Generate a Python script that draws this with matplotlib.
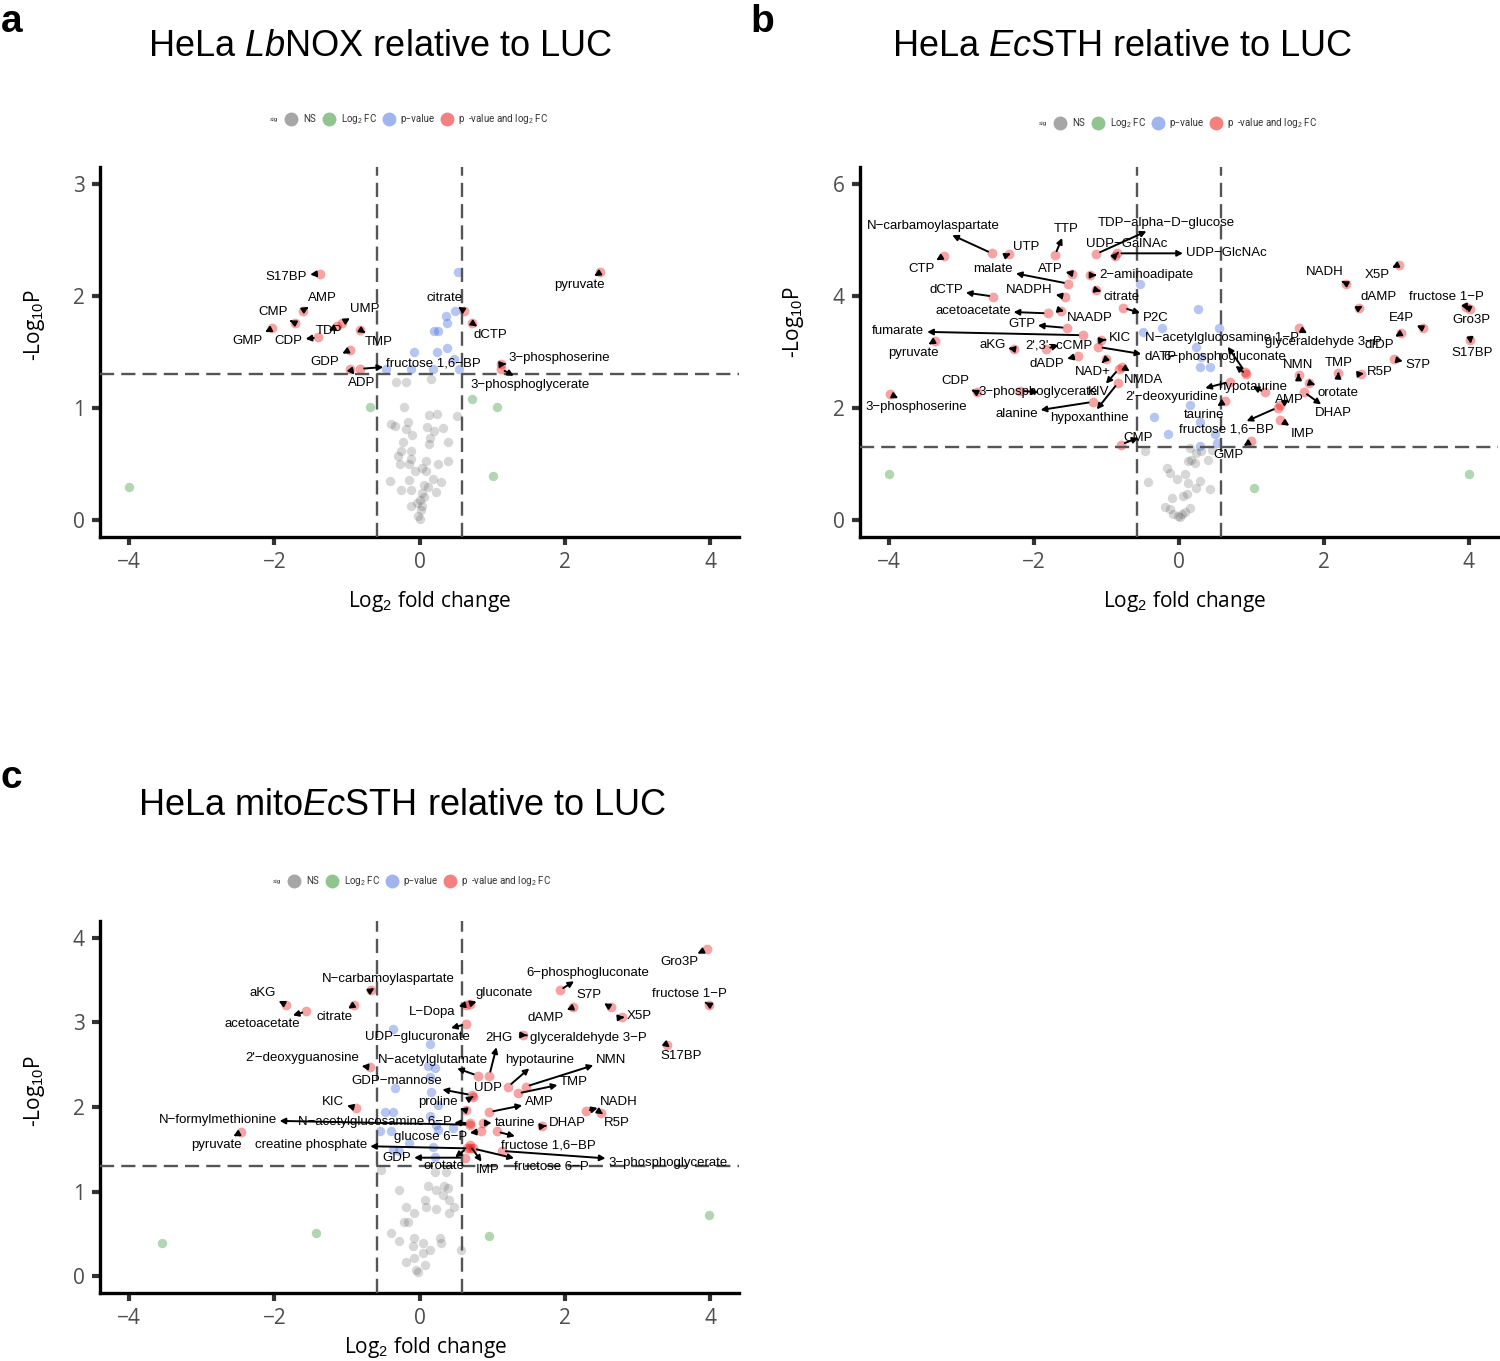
import matplotlib
matplotlib.use('Agg')
import matplotlib.pyplot as plt

plt.rcParams['font.family'] = ['Open Sans', 'DejaVu Sans']
plt.rcParams['mathtext.fontset'] = 'custom'
plt.rcParams['mathtext.rm'] = 'Liberation Sans'
plt.rcParams['mathtext.it'] = 'Liberation Sans:italic'
plt.rcParams['mathtext.bf'] = 'Liberation Sans:bold'

M = '\u2212'

# ---------------- panel a : HeLa LbNOX ----------------
a_names = ['S17BP', 'AMP', 'CMP', 'GMP', 'CDP', 'UMP', 'TDP', 'TMP', 'GDP', 'ADP',
           'fructose 1,6' + M + 'BP', 'citrate', 'dCTP', '3' + M + 'phosphoserine',
           '3' + M + 'phosphoglycerate', 'pyruvate']
a_fc = [-1.37, -1.61, -1.72, -2.03, -1.40, -1.07, -1.13, -0.82, -0.96, -0.96,
        -0.82, 0.61, 0.72, 1.12, 1.12, 2.49]
a_p = [2.20, 1.87, 1.76, 1.71, 1.63, 1.76, 1.73, 1.70, 1.52, 1.35,
       1.35, 1.87, 1.76, 1.39, 1.35, 2.21]
a_text_pos = [(-1.83, 2.17), (-1.34, 1.98), (-2.02, 1.86), (-2.37, 1.60), (-1.80, 1.60),
              (-0.75, 1.88), (-1.25, 1.69), (-0.56, 1.59), (-1.30, 1.41), (-0.80, 1.22),
              (0.19, 1.40), (0.34, 1.98), (0.97, 1.65), (1.93, 1.45), (1.52, 1.21),
              (2.20, 2.10)]
a_blue_fc = [0.53, 0.49, 0.36, 0.38, 0.20, 0.26, 0.38, 0.24, -0.08, 0.48, -0.46, -0.12, 0.19, 0.54]
a_blue_p = [2.21, 1.87, 1.82, 1.76, 1.69, 1.69, 1.54, 1.50, 1.50, 1.44, 1.35, 1.35, 1.35, 1.35]
a_green_fc = [0.72, 1.06, -0.68, 1.01, -4.0]
a_green_p = [1.08, 1.01, 1.01, 0.39, 0.30]
a_grey_fc = [-0.32, -0.19, 0.16, -0.21, 0.13, 0.24, 0.52, -0.39, -0.34, -0.16, 0.10, 0.32, 0.20,
             -0.19, -0.10, 0.14, -0.23, 0.39, 0.13, -0.25, -0.12, -0.29, -0.12, 0.09, 0.39, -0.27,
             -0.14, 0.25, 0.03, 0.09, -0.06, 0.19, -0.41, -0.14, 0.29, 0.06, 0.12, -0.26, -0.12,
             0.22, 0.03, 0.06, 0.00, -0.03, -0.12, 0.04, 0.02, -0.02, 0.00]
a_grey_p = [1.23, 1.23, 1.26, 1.01, 0.94, 0.95, 0.93, 0.86, 0.84, 0.88, 0.83, 0.82, 0.80,
            0.81, 0.76, 0.73, 0.70, 0.70, 0.68, 0.62, 0.62, 0.57, 0.55, 0.53, 0.53, 0.50,
            0.50, 0.50, 0.47, 0.44, 0.44, 0.37, 0.35, 0.36, 0.34, 0.31, 0.30, 0.27, 0.27,
            0.25, 0.24, 0.21, 0.18, 0.15, 0.13, 0.13, 0.09, 0.04, 0.01]

# ---------------- panel b : HeLa EcSTH ----------------
b_names = ['N' + M + 'carbamoylaspartate', 'CTP', 'UTP', 'TTP', 'TDP' + M + 'alpha' + M + 'D' + M + 'glucose',
           'UDP' + M + 'GalNAc', 'UDP' + M + 'GlcNAc', 'malate', 'ATP', '2' + M + 'aminoadipate',
           'dCTP', 'NADPH', 'citrate', 'acetoacetate', 'NAADP', 'P2C', 'GTP', 'fumarate',
           'pyruvate', 'aKG', "2',3'" + M + 'cCMP', 'KIC', 'dATP', 'dADP', 'NAD+', 'NMDA', 'KIV',
           'CDP', '3' + M + 'phosphoglycerate', '3' + M + 'phosphoserine', 'alanine', 'hypoxanthine',
           'CMP', 'N' + M + 'acetylglucosamine 1' + M + 'P', '6' + M + 'phosphogluconate',
           "2'" + M + 'deoxyuridine', 'hypotaurine', 'taurine', 'fructose 1,6' + M + 'BP', 'AMP',
           'IMP', 'GMP', 'glyceraldehyde 3' + M + 'P', 'NMN', 'TMP', 'orotate', 'DHAP', 'NADH',
           'X5P', 'dAMP', 'fructose 1' + M + 'P', 'Gro3P', 'E4P', 'dIDP', 'S17BP', 'S7P', 'R5P']
b_fc = [-2.58, -3.24, -2.35, -1.71, -1.14, -0.88, -0.85, -1.53, -1.47, -1.22,
        -2.56, -1.57, -1.15, -1.81, -1.62, -0.77, -1.55, -1.33, -3.37, -2.27,
        -1.83, -1.07, -1.11, -1.39, -1.01, -0.78, -0.83, -2.79, -2.19, -3.99,
        -1.19, -0.84, -0.80, 0.91, 0.93, 0.70, 1.19, 0.63, 1.36, 1.40,
        1.40, 1.00, 1.65, 1.65, 2.20, 1.80, 1.72, 2.31, 3.03, 2.49,
        4.02, 3.96, 3.37, 3.07, 4.02, 2.97, 2.51]
b_p = [4.76, 4.72, 4.74, 4.73, 4.75, 4.72, 4.76, 4.22, 4.40, 4.37,
       3.99, 3.99, 4.11, 3.69, 3.74, 3.79, 3.43, 3.30, 3.20, 3.05,
       3.06, 3.21, 3.09, 2.93, 2.87, 2.74, 2.70, 2.28, 2.31, 2.25,
       2.11, 2.45, 1.35, 2.65, 2.60, 2.47, 2.28, 2.12, 2.01, 2.06,
       1.79, 1.41, 3.42, 2.59, 2.62, 2.45, 2.29, 4.22, 4.56, 3.79,
       3.77, 3.80, 3.42, 3.34, 3.21, 2.87, 2.61]
b_text_pos = [(-3.39, 5.24), (-3.55, 4.48), (-2.10, 4.87), (-1.56, 5.19), (-0.18, 5.31),
              (-0.72, 4.93), (0.65, 4.76), (-2.56, 4.48), (-1.77, 4.48), (-0.45, 4.37),
              (-3.21, 4.11), (-2.06, 4.11), (-0.79, 3.99), (-2.84, 3.74), (-1.23, 3.61),
              (-0.32, 3.61), (-2.17, 3.50), (-3.87, 3.37), (-3.66, 2.98), (-2.57, 3.12),
              (-1.66, 3.12), (-0.82, 3.25), (-0.26, 2.91), (-1.82, 2.79), (-1.19, 2.65),
              (-0.49, 2.50), (-1.11, 2.28), (-3.09, 2.48), (-1.94, 2.28), (-3.62, 2.02),
              (-2.24, 1.90), (-1.23, 1.82), (-0.56, 1.47), (0.59, 3.25), (0.63, 2.91),
              (-0.10, 2.20), (1.02, 2.38), (0.34, 1.88), (0.66, 1.61), (1.52, 2.15),
              (1.71, 1.53), (0.69, 1.17), (1.99, 3.18), (1.65, 2.77), (2.21, 2.80),
              (2.20, 2.27), (2.13, 1.91), (2.01, 4.42), (2.73, 4.37), (2.75, 3.98),
              (3.69, 3.98), (4.04, 3.58), (3.07, 3.60), (2.77, 3.12), (4.04, 2.99),
              (3.30, 2.77), (2.77, 2.65)]
b_blue_fc = [-0.54, 0.27, -0.49, -0.24, 0.55, 0.24, 0.31, 0.29, 0.43, 0.15, -0.35, 0.29, -0.15, 0.50, 0.52, 0.29]
b_blue_p = [4.22, 3.77, 3.36, 3.42, 3.43, 3.09, 2.92, 2.74, 2.74, 2.06, 1.85, 1.76, 1.53, 1.53, 1.38, 1.32]
b_green_fc = [-4.0, 1.03, 4.0]
b_green_p = [0.83, 0.57, 0.82]
b_grey_fc = [-0.47, 0.15, 0.24, 0.13, 0.16, 0.22, 0.40, 0.31, -0.17, -0.12, 0.08, -0.03, 0.29, 0.13,
             -0.42, 0.24, 0.43, 0.11, 0.06, -0.10, -0.19, -0.12, 0.15, -0.08, -0.01, 0.04, 0.01, 0.08, 0.45]
b_grey_p = [1.23, 1.29, 1.20, 1.05, 1.08, 1.02, 1.08, 1.23, 0.93, 0.85, 0.82, 0.74, 0.70, 0.67,
            0.68, 0.58, 0.56, 0.46, 0.43, 0.39, 0.23, 0.20, 0.21, 0.11, 0.08, 0.11, 0.05, 0.14, 1.26]

# ---------------- panel c : HeLa mitoEcSTH ----------------
c_names = ['N' + M + 'carbamoylaspartate', 'aKG', 'acetoacetate', 'citrate', "2'" + M + 'deoxyguanosine',
           'KIC', 'N' + M + 'formylmethionine', 'pyruvate', 'creatine phosphate', 'GDP',
           'GDP' + M + 'mannose', 'L' + M + 'Dopa', 'gluconate', 'UDP' + M + 'glucuronate',
           'N' + M + 'acetylglutamate', '2HG', 'UDP', 'proline', 'hypotaurine', 'NMN', 'TMP', 'AMP',
           'taurine', 'N' + M + 'acetylglucosamine 6' + M + 'P', 'glucose 6' + M + 'P', 'NADH', 'R5P',
           'DHAP', 'fructose 1,6' + M + 'BP', '3' + M + 'phosphoglycerate', 'fructose 6' + M + 'P',
           'IMP', 'orotate', 'Gro3P', '6' + M + 'phosphogluconate', 'S7P', 'fructose 1' + M + 'P',
           'dAMP', 'X5P', 'glyceraldehyde 3' + M + 'P', 'S17BP']
c_fc = [-0.67, -1.84, -1.56, -0.90, -0.68, -0.88, 0.69, -2.46, 0.69, 0.62,
        0.72, 0.64, 0.69, 0.64, 0.80, 0.96, 0.73, 0.64, 1.22, 1.46,
        1.35, 0.96, 0.87, 0.69, 0.85, 2.29, 2.50, 1.68, 1.06, 1.13,
        0.73, 0.69, 0.66, 3.96, 1.93, 2.63, 3.99, 2.12, 2.79, 1.42, 3.41]
c_p = [3.38, 3.21, 3.13, 3.21, 2.47, 1.99, 1.79, 1.70, 1.51, 1.40,
       2.14, 3.21, 3.22, 2.98, 2.37, 2.37, 2.12, 1.96, 2.24, 2.24,
       2.16, 1.94, 1.81, 1.81, 1.71, 1.95, 1.93, 1.77, 1.71, 1.48,
       1.51, 1.55, 1.52, 3.87, 3.38, 3.18, 3.21, 3.18, 3.06, 2.85, 2.73]
c_text_pos = [(-0.43, 3.51), (-2.16, 3.35), (-2.16, 2.98), (-1.17, 3.06), (-1.62, 2.58),
              (-1.19, 2.06), (-2.78, 1.85), (-2.80, 1.55), (-1.49, 1.55), (-0.31, 1.40),
              (-0.32, 2.31), (0.18, 3.12), (1.16, 3.35), (-0.03, 2.83), (0.18, 2.56),
              (1.09, 2.81), (0.94, 2.23), (0.25, 2.06), (1.65, 2.56), (2.64, 2.56),
              (2.13, 2.30), (1.65, 2.06), (1.31, 1.81), (-0.62, 1.82), (0.15, 1.64),
              (2.75, 2.06), (2.71, 1.81), (2.04, 1.81), (1.78, 1.55), (3.42, 1.34),
              (1.81, 1.29), (0.94, 1.25), (0.34, 1.30), (3.58, 3.71), (2.32, 3.59),
              (2.34, 3.33), (3.71, 3.34), (1.74, 3.05), (3.03, 3.08), (2.32, 2.81),
              (3.60, 2.60)]
c_blue_fc = [-0.36, 0.14, 0.11, 0.21, -0.34, 0.14, 0.16, -0.47, -0.37, 0.25, 0.14, -0.55, -0.39,
             0.23, 0.46, 0.25, -0.14, 0.18, -0.37, -0.28, 0.21]
c_blue_p = [2.92, 2.75, 2.48, 2.46, 2.22, 2.36, 2.18, 1.94, 1.94, 2.02, 1.89, 1.71, 1.71,
            1.79, 1.75, 1.73, 1.57, 1.53, 1.49, 1.48, 1.41]
c_green_fc = [-3.55, -1.43, 0.96, 3.99]
c_green_p = [0.39, 0.51, 0.47, 0.72]
c_grey_fc = [-0.53, -0.28, 0.11, 0.23, 0.34, 0.39, 0.32, 0.41, 0.48, 0.07, 0.09, 0.22, 0.41, -0.18,
             -0.07, -0.21, -0.16, -0.39, -0.28, -0.07, -0.09, 0.05, 0.28, 0.30, 0.14, 0.05, -0.07,
             0.07, -0.18, -0.05, -0.02, 0.57, 0.21, 0.37]
c_grey_p = [1.25, 1.02, 1.06, 1.02, 1.06, 1.04, 0.96, 0.90, 0.82, 0.90, 0.82, 0.79, 0.75, 0.82,
            0.74, 0.64, 0.64, 0.51, 0.41, 0.45, 0.35, 0.39, 0.45, 0.39, 0.31, 0.27, 0.21,
            0.13, 0.17, 0.07, 0.05, 0.31, 1.23, 1.23]

FC_CUT = 0.585
P_CUT = 1.301


def draw_panel(ax, names, fc, p, text_pos, blue, green, grey, ymax, ystep):
    ax.scatter(grey[0], grey[1], s=46, color='#4d4d4d', alpha=0.22, lw=0, zorder=2)
    ax.scatter(green[0], green[1], s=46, color='#228b22', alpha=0.35, lw=0, zorder=2)
    ax.scatter(blue[0], blue[1], s=46, color='#4169e1', alpha=0.38, lw=0, zorder=2)
    ax.scatter(fc, p, s=50, color='#ee0000', alpha=0.36, lw=0, zorder=2)

    for xv in (-FC_CUT, FC_CUT):
        ax.axvline(xv, color='#555555', lw=1.7, ls=(0, (6, 3)), zorder=3)
    ax.axhline(P_CUT, color='#555555', lw=1.7, ls=(0, (6, 3)), zorder=3)

    for name, x, y, pos in zip(names, fc, p, text_pos):
        ax.annotate(name, xy=(x, y), xytext=pos, ha='center', va='center',
                    fontsize=9.5, family='Liberation Sans', zorder=5,
                    arrowprops=dict(arrowstyle='<|-,head_length=0.35,head_width=0.18',
                                    color='black', lw=1.4, shrinkA=0, shrinkB=3))

    ax.set_xlim(-4.4, 4.4)
    ax.set_ylim(-0.05 * ymax, 1.05 * ymax)
    ax.set_xticks([-4, -2, 0, 2, 4])
    ax.set_yticks([ystep * i for i in range(int(ymax / ystep) + 1)])
    for s in ('top', 'right'):
        ax.spines[s].set_visible(False)
    for s in ('left', 'bottom'):
        ax.spines[s].set_linewidth(2.4)
        ax.spines[s].set_color('black')
    ax.tick_params(length=6, width=3, color='#333333', labelsize=15,
                   labelcolor='#4d4d4d', pad=5)
    ax.set_xlabel('Log$_2$ fold change', fontsize=15)
    ax.set_ylabel('-Log$_{10}$P', fontsize=15)


fig = plt.figure(figsize=(15, 13.61), dpi=100)

ax_a = fig.add_axes([0.0667, 0.6054, 0.426, 0.2719])
draw_panel(ax_a, a_names, a_fc, a_p, a_text_pos, (a_blue_fc, a_blue_p),
           (a_green_fc, a_green_p), (a_grey_fc, a_grey_p), 3, 1)
ax_a.xaxis.set_label_coords(0.516, -0.1405)
ax_a.yaxis.set_label_coords(-0.083, 0.573)

ax_b = fig.add_axes([0.5733, 0.6054, 0.4253, 0.2719])
draw_panel(ax_b, b_names, b_fc, b_p, b_text_pos, (b_blue_fc, b_blue_p),
           (b_green_fc, b_green_p), (b_grey_fc, b_grey_p), 6, 2)
ax_b.xaxis.set_label_coords(0.5086, -0.1405)
ax_b.yaxis.set_label_coords(-0.0846, 0.581)

ax_c = fig.add_axes([0.0667, 0.05, 0.426, 0.2733])
draw_panel(ax_c, c_names, c_fc, c_p, c_text_pos, (c_blue_fc, c_blue_p),
           (c_green_fc, c_green_p), (c_grey_fc, c_grey_p), 4, 1)
ax_c.xaxis.set_label_coords(0.509, -0.113)
ax_c.yaxis.set_label_coords(-0.083, 0.543)

# overlay in pixel coordinates for titles, panel letters and legends
ov = fig.add_axes([0, 0, 1, 1], zorder=10)
ov.set_xlim(0, 1500)
ov.set_ylim(1361, 0)
ov.axis('off')

ov.text(1, 32, 'a', fontsize=28, fontweight='bold', family='Liberation Sans')
ov.text(750, 32, 'b', fontsize=28, fontweight='bold', family='Liberation Sans')
ov.text(1, 788, 'c', fontsize=28, fontweight='bold', family='Liberation Sans')

ov.text(380, 56, 'HeLa $\\it{Lb}$NOX relative to LUC', ha='center', fontsize=26,
        family='Liberation Sans')
ov.text(1122, 56, 'HeLa $\\it{Ec}$STH relative to LUC', ha='center', fontsize=26,
        family='Liberation Sans')
ov.text(402, 815, 'HeLa mito$\\it{Ec}$STH relative to LUC', ha='center', fontsize=26,
        family='Liberation Sans')

leg_colors = ['#a6a6a6', '#90c590', '#a0b4f0', '#f68080']


def draw_legend(x0, y):
    ov.text(x0 + 6, y, 'sig', fontsize=4.5, ha='center', va='center', family='Roboto', color='#333333')
    for dx, col in zip((23, 61, 121, 179), leg_colors):
        ov.plot([x0 + dx], [y], 'o', ms=10, color=col, mew=0)
    kw = dict(fontsize=7, va='center', family='Roboto', color='#333333')
    ov.text(x0 + 35, y, 'NS', **kw)
    ov.text(x0 + 73, y, 'Log$_2$ FC', **kw)
    ov.text(x0 + 132, y, 'p' + M + 'value', **kw)
    ov.text(x0 + 190, y, 'p', **kw)
    ov.text(x0 + 200, y, '-value and log$_2$ FC', **kw)


draw_legend(268, 119)
draw_legend(1037, 123)
draw_legend(271, 881)

fig.savefig('out.png', dpi=100)
